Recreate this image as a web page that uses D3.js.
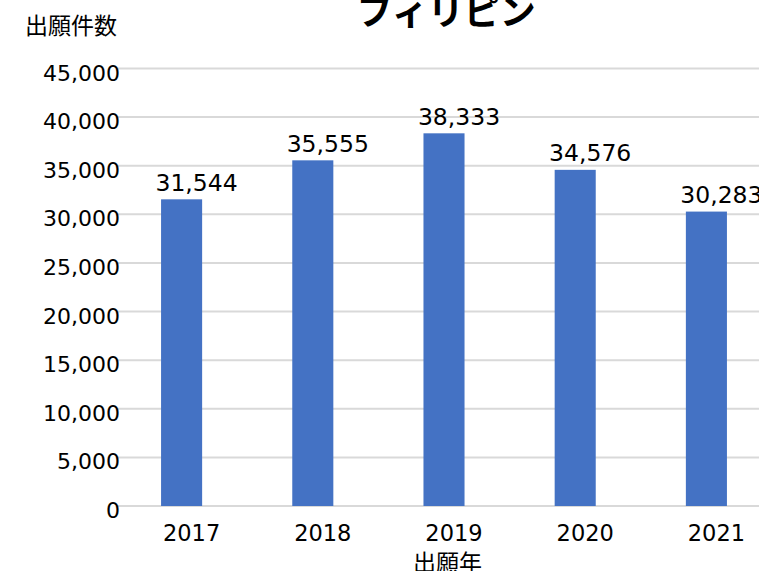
<!DOCTYPE html>
<html>
<head>
<meta charset="utf-8">
<script src="https://cdn.jsdelivr.net/npm/d3@7"></script>
<style>
  html, body { margin: 0; padding: 0; background: #fff; }
  svg { display: block; }
</style>
</head>
<body>
<div id="chart"></div>
<script>
// Annual application counts
const years = ["2017", "2018", "2019", "2020", "2021"];
const counts = [31544, 35555, 38333, 34576, 30283];
const yTicks = [0, 5000, 10000, 15000, 20000, 25000, 30000, 35000, 40000, 45000];

const chartTitle = "フィリピン";
const yTitle = "出願件数";
const xTitle = "出願年";

const W = 759, H = 571;
const latin = "'DejaVu Sans', Verdana, sans-serif";
const cjk = "'Noto Sans CJK JP', 'Noto Sans', sans-serif";

const svg = d3.select("#chart").append("svg")
  .attr("width", W).attr("height", H);

const x = d3.scaleBand()
  .domain(years)
  .range([116, 772])
  .paddingInner(0.687)
  .paddingOuter(0.3435);

const y = d3.scaleLinear()
  .domain([0, 45000])
  .range([506, 68.5]);

// Horizontal gridlines
svg.append("g")
  .selectAll("line")
  .data(yTicks)
  .join("line")
  .attr("x1", 117).attr("x2", W)
  .attr("y1", d => y(d)).attr("y2", d => y(d))
  .attr("stroke", "#d9d9d9")
  .attr("stroke-width", 2);

// Y axis tick labels
const fmt = d3.format(",");
svg.append("g")
  .selectAll("text")
  .data(yTicks)
  .join("text")
  .attr("x", 120)
  .attr("y", d => y(d) + 6)
  .attr("text-anchor", "end")
  .attr("dominant-baseline", "middle")
  .style("font-family", latin)
  .style("font-size", "22px")
  .attr("fill", "#000")
  .text(d => fmt(d));

// Bars
const rows = years.map((yr, i) => ({ yr, v: counts[i] }));
svg.append("g")
  .selectAll("rect")
  .data(rows)
  .join("rect")
  .attr("x", d => x(d.yr))
  .attr("width", x.bandwidth())
  .attr("y", d => y(d.v))
  .attr("height", d => y(0) - y(d.v))
  .attr("fill", "#4472c4");

// Value labels above bars (set slightly right of the bar centre)
svg.append("g")
  .selectAll("text")
  .data(rows)
  .join("text")
  .attr("x", d => x(d.yr) + x.bandwidth() / 2 + 15)
  .attr("y", d => y(d.v) - 8.5)
  .attr("text-anchor", "middle")
  .style("font-family", latin)
  .style("font-size", "23.5px")
  .attr("fill", "#000")
  .text(d => fmt(d.v));

// X axis category labels
svg.append("g")
  .selectAll("text")
  .data(years)
  .join("text")
  .attr("x", d => x(d) + x.bandwidth() / 2 + 10)
  .attr("y", 534)
  .attr("text-anchor", "middle")
  .attr("dominant-baseline", "middle")
  .style("font-family", latin)
  .style("font-size", "22.5px")
  .attr("fill", "#000")
  .text(d => d);

// Titles
svg.append("text")
  .attr("x", 446)
  .attr("y", 25)
  .attr("text-anchor", "middle")
  .style("font-family", cjk)
  .style("font-size", "36px")
  .style("font-weight", "bold")
  .attr("fill", "#000")
  .text(chartTitle);

svg.append("text")
  .attr("x", 25)
  .attr("y", 34)
  .style("font-family", cjk)
  .style("font-size", "23px")
  .attr("fill", "#000")
  .text(yTitle);

svg.append("text")
  .attr("x", 447.5)
  .attr("y", 571)
  .attr("text-anchor", "middle")
  .style("font-family", cjk)
  .style("font-size", "23px")
  .attr("fill", "#000")
  .text(xTitle);
</script>
</body>
</html>
